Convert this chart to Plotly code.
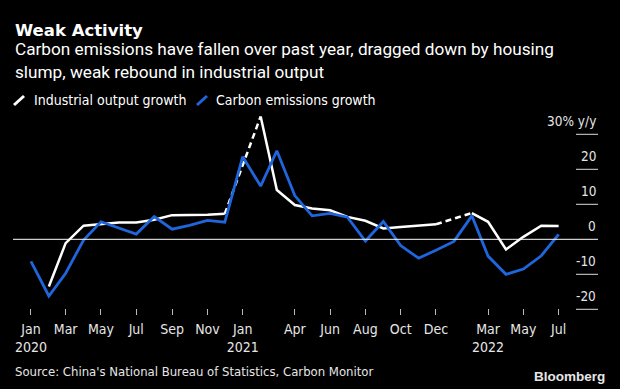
import plotly.graph_objects as go

# ---------------- data ----------------
months = [f"{y}-{m:02d}-01" for y in (2020, 2021, 2022) for m in range(1, 13)][:31]

industrial_output = [
    None, -13.5, -1.1, 3.9, 4.4, 4.8, 4.8, 5.6, 6.9, 6.9, 7.0, 7.3,
    None, 35.1, 14.1, 9.8, 8.8, 8.3, 6.4, 5.3, 3.1, 3.5, 3.8, 4.3,
    None, 7.5, 5.0, -2.9, 0.7, 3.9, 3.8,
]
carbon_emissions = [
    -6.3, -16.2, -9.7, -0.2, 5.0, 3.3, 1.5, 6.5, 2.9, 4.0, 5.4, 4.9,
    23.6, 15.2, 25.3, 12.5, 6.7, 7.4, 6.3, -0.5, 5.1, -1.8, -5.4, -3.1,
    -0.6, 6.7, -4.8, -10.0, -8.5, -4.7, 1.4,
]

x_tick_vals = ["2020-01-01", "2020-03-01", "2020-05-01", "2020-07-01", "2020-09-01",
               "2020-11-01", "2021-01-01", "2021-04-01", "2021-06-01", "2021-08-01",
               "2021-10-01", "2021-12-01", "2022-03-01", "2022-05-01", "2022-07-01"]
x_tick_text = ["Jan<br>2020", "Mar", "May", "Jul", "Sep", "Nov", "Jan<br>2021",
               "Apr", "Jun", "Aug", "Oct", "Dec", "Mar<br>2022", "May", "Jul"]

y_tick_vals = [30, 20, 10, 0, -10, -20]
y_tick_text = ["30% y/y", "20", "10", "0", "-10", "-20"]

title = "Weak Activity"
subtitle_lines = ["Carbon emissions have fallen over past year, dragged down by housing",
                  "slump, weak rebound in industrial output"]
legend_names = ["Industrial output growth", "Carbon emissions growth"]
source = "Source: China's National Bureau of Statistics, Carbon Monitor"

WHITE = "#ffffff"
BLUE = "#1f66dd"
NARROW = "Liberation Sans Narrow, Arial Narrow, DejaVu Sans Condensed, sans-serif"

# ---------------- layout geometry ----------------
W, H = 620, 389
ML, MR, MT, MB = 13, 22, 110, 74
PW, PH = W - ML - MR, H - MT - MB


def px(xp):
    return (xp - ML) / PW


def py(yp):
    return (H - MB - yp) / PH


# dashed bridges across missing January readings
dash_x, dash_y = [], []
for i, v in enumerate(industrial_output):
    if v is None and 0 < i < len(industrial_output) - 1:
        dash_x += [months[i - 1], months[i + 1], None]
        dash_y += [industrial_output[i - 1], industrial_output[i + 1], None]

fig = go.Figure()
fig.add_trace(go.Scatter(x=months, y=industrial_output, mode="lines",
                         line=dict(color=WHITE, width=2.5), connectgaps=False,
                         hoverinfo="skip", showlegend=False))
fig.add_trace(go.Scatter(x=dash_x, y=dash_y, mode="lines",
                         line=dict(color=WHITE, width=2.5, dash="6px,4px"),
                         connectgaps=False, hoverinfo="skip", showlegend=False))
fig.add_trace(go.Scatter(x=months, y=carbon_emissions, mode="lines",
                         line=dict(color=BLUE, width=2.8),
                         hoverinfo="skip", showlegend=False))

shapes = []
# zero line
shapes.append(dict(type="line", xref="paper", yref="y", x0=0, x1=1, y0=0, y1=0,
                   line=dict(color=WHITE, width=1)))
annotations = []
for v, t in zip(y_tick_vals, y_tick_text):
    if v != 0:
        shapes.append(dict(type="line", xref="paper", yref="y", x0=px(576), x1=1,
                           y0=v, y1=v, line=dict(color="#dddddd", width=1)))
    annotations.append(dict(xref="paper", yref="y", x=1, y=v, text=t, showarrow=False,
                            xanchor="right", yanchor="bottom", yshift=3,
                            font=dict(family=NARROW, size=13.5, color="#e6e6e6")))

# title / subtitle
annotations.append(dict(xref="paper", yref="paper", x=px(13), y=py(30), text=f"<b>{title}</b>",
                        showarrow=False, xanchor="left", yanchor="middle",
                        font=dict(family="DejaVu Sans", size=16.5, color=WHITE)))
for i, line in enumerate(subtitle_lines):
    annotations.append(dict(xref="paper", yref="paper", x=px(13), y=py(49.5 + 22 * i), text=line,
                            showarrow=False, xanchor="left", yanchor="middle",
                            font=dict(family="Roboto", size=17.2, color=WHITE)))

# legend
leg_slash = [(14, WHITE), (197, BLUE)]
leg_text_x = [32, 214]
for (sx, col), tx, name in zip(leg_slash, leg_text_x, legend_names):
    shapes.append(dict(type="line", xref="paper", yref="paper", x0=px(sx), x1=px(sx + 10),
                       y0=py(105), y1=py(96), line=dict(color=col, width=3)))
    annotations.append(dict(xref="paper", yref="paper", x=px(tx), y=py(100), text=name,
                            showarrow=False, xanchor="left", yanchor="middle",
                            font=dict(family=NARROW, size=14, color=WHITE)))

annotations.append(dict(xref="paper", yref="paper", x=px(13), y=py(371), text=source,
                        showarrow=False, xanchor="left", yanchor="middle",
                        font=dict(family=NARROW, size=13, color="#e6e6e6")))
annotations.append(dict(xref="paper", yref="paper", x=px(607), y=py(376), text="<b>Bloomberg</b>",
                        showarrow=False, xanchor="right", yanchor="middle",
                        font=dict(family="Liberation Sans", size=13.5, color="#e6e6e6")))

y_top = (239.3 - MT) / 3.5
y_bot = (239.3 - (H - MB)) / 3.5

fig.update_layout(
    width=W, height=H,
    margin=dict(l=ML, r=MR, t=MT, b=MB, pad=0),
    paper_bgcolor="#000000", plot_bgcolor="#000000",
    shapes=shapes, annotations=annotations,
    xaxis=dict(type="date", range=["2019-12-01", "2022-09-07"],
               tickmode="array", tickvals=x_tick_vals, ticktext=x_tick_text,
               ticks="inside", ticklen=6, tickcolor="#bbbbbb", tickwidth=1,
               showgrid=False, zeroline=False, showline=False,
               tickfont=dict(family=NARROW, size=14, color="#e6e6e6"),
               ticklabelstandoff=4),
    yaxis=dict(range=[y_bot, y_top], showgrid=False, zeroline=False,
               showticklabels=False, ticks="", showline=False),
    showlegend=False,
)

fig.write_html("out.html", config={"displayModeBar": False},
               post_script="document.body.style.margin='0';document.body.style.overflow='hidden';"
                           "document.body.style.background='#000';")
